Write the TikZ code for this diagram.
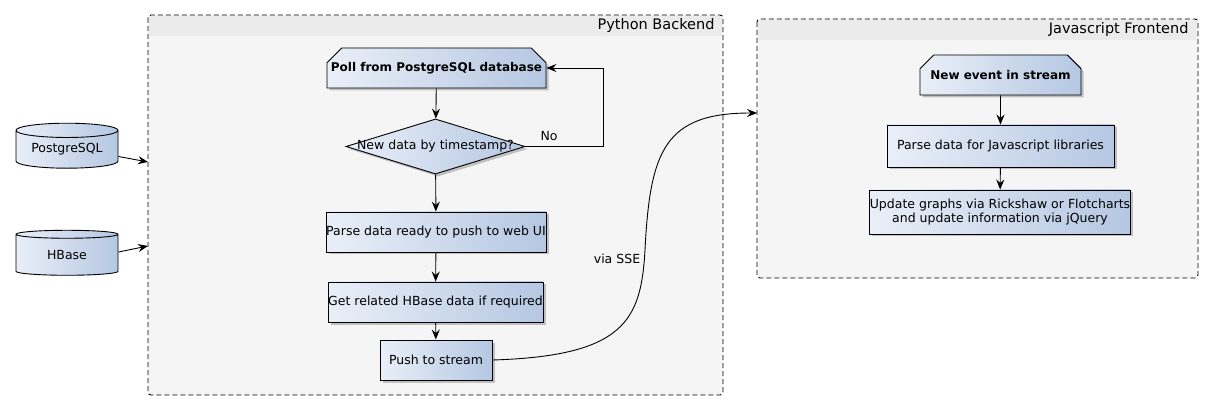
\documentclass[tikz,border=0pt]{standalone}
\usepackage{fontspec}
\setmainfont{DejaVu Sans}
\usetikzlibrary{arrows.meta}
\usetikzlibrary{shapes.geometric}
\usetikzlibrary{shapes.misc}
\usetikzlibrary{shadows}

\definecolor{boxL}{HTML}{E9EFF8}
\definecolor{boxR}{HTML}{B5C7E2}
\definecolor{laneBg}{HTML}{F5F5F5}
\definecolor{laneHd}{HTML}{EBEBEB}

\tikzset{
    flowbox/.style={draw, line width=0.9pt, left color=boxL, right color=boxR,
        inner sep=0pt, align=center},
    shadowed/.style={drop shadow={shadow xshift=2.5pt, shadow yshift=-2.5pt,
        fill=black!45, opacity=.5}},
    stepbox/.style={flowbox, shadowed, rectangle, minimum height=40pt},
    startbox/.style={flowbox, shadowed, chamfered rectangle,
        chamfered rectangle corners={north west,north east},
        chamfered rectangle sep=9pt, inner xsep=-3pt, minimum height=40pt,
        font=\fontsize{12}{14}\selectfont\bfseries},
    testbox/.style={flowbox, shadowed, diamond, aspect=3.25, inner sep=-2pt},
    dbnode/.style={flowbox, cylinder, shape border rotate=90, aspect=0.2,
        minimum width=102pt, minimum height=45pt},
    flow/.style={line width=0.9pt, -{Stealth[length=10pt, width=8pt, inset=3.5pt]}},
    lane/.style={draw, dash pattern=on 5pt off 3pt, line width=0.9pt, fill=laneBg, rounded corners=3pt},
    lanetitle/.style={anchor=east, font=\fontsize{14.5}{16}\selectfont},
}

\begin{document}
\begin{tikzpicture}[x=1pt, y=-1pt, font=\fontsize{12.5}{14.5}\selectfont]
        \useasboundingbox[fill=white] (0,0) rectangle (1214,411);

        % swimlanes
        \draw[lane] (148,15) rectangle (723,395);
        \fill[laneHd] (148.6,15.6) rectangle (722.4,36);
        \node[lanetitle] (backend) at (718,25.5) {Python Backend};
        \draw[lane] (757,19) rectangle (1198,278);
        \fill[laneHd] (757.6,19.6) rectangle (1197.4,40);
        \node[lanetitle] (frontend) at (1192,29.5) {Javascript Frontend};
        \coordinate (pgin) at (148,162);
        \coordinate (hbin) at (148,246);
        \coordinate (ssein) at (757,113);
        \coordinate (loop) at (603,68);

        % data sources
        \node[dbnode] (pg) at (67,149.5) {PostgreSQL};
        \node[dbnode] (hb) at (67,255) {HBase};
        \draw[flow] (pg.east) ++(0,7) coordinate (pgout) -- (pgin);
        \draw[flow] (hb.east) ++(0,-3) coordinate (hbout) -- (hbin);

        % backend
        \node[startbox, minimum width=219pt] (poll) at (436.5,68) {Poll from PostgreSQL database};
        \node[testbox] (new) at (435.5,146.5) {New data by timestamp?};
        \node[stepbox, minimum width=220pt] (parse) at (436,232) {Parse data ready to push to web UI};
        \node[stepbox, minimum width=215pt] (hbget) at (435.5,302) {Get related HBase data if required};
        \node[stepbox, minimum width=112pt] (push) at (436,360) {Push to stream};
        \draw[flow] (poll) -- (new);
        \draw[flow] (new.east) -| (loop) -- (poll.east);
        \node (no) at (549,136) {No};
        \draw[flow] (new) -- (parse);
        \draw[flow] (parse) -- (hbget);
        \draw[flow] (hbget) -- (push);

        % frontend
        \node[startbox, minimum width=161pt] (event) at (1000.5,75) {New event in stream};
        \node[stepbox, minimum width=227pt, minimum height=42pt] (jsparse) at (1000.5,146) {Parse data for Javascript libraries};
        \node[stepbox, minimum width=258pt, minimum height=44pt] (update) at (1000,212)
            {Update graphs via Rickshaw or Flotcharts\\and update information via jQuery};
        \draw[flow] (event) -- (jsparse);
        \draw[flow] (jsparse) -- (update);

        % server sent events
        \draw[flow] (push.east) .. controls (625,356) and (641,320) .. (645,250)
            .. controls (650,150) and (665,113) .. (ssein);
        \node (sse) at (617,259) {via SSE};
\end{tikzpicture}
\end{document}
